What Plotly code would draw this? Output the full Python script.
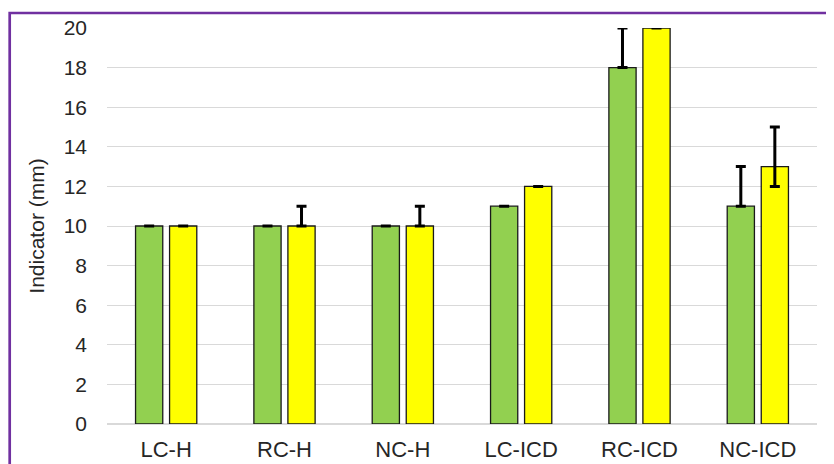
import plotly.graph_objects as go

categories = ["LC-H", "RC-H", "NC-H", "LC-ICD", "RC-ICD", "NC-ICD"]
green_values = [10, 10, 10, 11, 18, 11]
green_err_plus = [0, 0, 0, 0, 2, 2]
green_err_minus = [0, 0, 0, 0, 0, 0]
yellow_values = [10, 10, 10, 12, 20, 13]
yellow_err_plus = [0, 1, 1, 0, 0, 2]
yellow_err_minus = [0, 0, 0, 0, 0, 1]
y_ticks = list(range(0, 21, 2))

# page body has an 8px margin; figure coords = screen coords - 8
OFF = 8
W, H = 834 - OFF, 464 - OFF
L, R, T, B = 107 - OFF, 17, 28 - OFF, 40
pw, ph = W - L - R, H - T - B

def err(plus, minus):
    return dict(type="data", symmetric=False, array=plus, arrayminus=minus,
                color="black", thickness=3, width=5, visible=True)

fig = go.Figure()
fig.add_trace(go.Bar(x=categories, y=green_values, marker=dict(color="#92D050", line=dict(color="#1a1a1a", width=1.3)),
                     error_y=err(green_err_plus, green_err_minus), name="A"))
fig.add_trace(go.Bar(x=categories, y=yellow_values, marker=dict(color="#FFFF00", line=dict(color="#1a1a1a", width=1.3)),
                     error_y=err(yellow_err_plus, yellow_err_minus), name="B"))

def px_x(p):
    return (p - OFF - L) / pw

def px_y(p):
    return (H - B - (p - OFF)) / ph

fig.add_shape(type="rect", xref="paper", yref="paper",
              x0=px_x(9.7), x1=px_x(828), y0=px_y(475), y1=px_y(13),
              line=dict(color="#7030A0", width=2.7), fillcolor="rgba(0,0,0,0)", layer="above")

FONT = "Liberation Sans, Arial, sans-serif"
fig.update_layout(
    width=W, height=H,
    margin=dict(l=L, r=R, t=T, b=B, autoexpand=False),
    paper_bgcolor="white", plot_bgcolor="white",
    barmode="group", bargap=0.425, bargroupgap=0.2,
    showlegend=False,
    font=dict(family=FONT, size=21, color="#262626"),
)
fig.update_xaxes(automargin=False, showgrid=False, showline=False, ticks="",
                 tickfont=dict(family=FONT, size=22, color="#262626"), ticklabelstandoff=10)
fig.update_yaxes(automargin=False, range=[0, 20], tickvals=y_ticks, showgrid=True, gridcolor="#d9d9d9", gridwidth=1,
                 zeroline=True, zerolinecolor="#d9d9d9", zerolinewidth=1.5,
                 ticks="", tickfont=dict(family=FONT, size=21, color="#262626"), ticklabelstandoff=19,
                 title=dict(text="Indicator (mm)", font=dict(family=FONT, size=21, color="#262626"), standoff=13))

fig.write_html("out.html")
